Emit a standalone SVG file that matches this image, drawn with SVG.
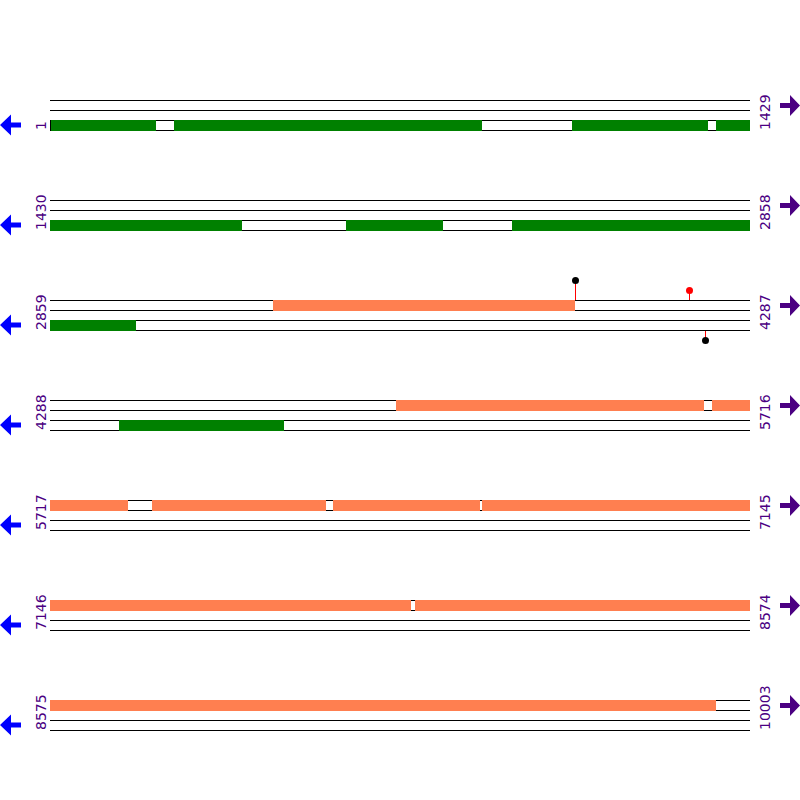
<svg xmlns="http://www.w3.org/2000/svg" width="800" height="800" viewBox="0 0 800 800">
<style>
.ln{stroke:#000;stroke-width:1;fill:none}
.g{fill:#008000}
.o{fill:#ff7f50}
.lbl{font-family:"DejaVu Sans",sans-serif;font-size:14px;fill:#4b0082}
.la{fill:#0000ff}
.ra{fill:#4b0082}
.stem{stroke:#ff0000;stroke-width:1}
</style>
<defs>
<g id="rows">
<path class="ln" d="M50 0.5H750M50 10.5H750M50 20.5H750M50 30.5H750"/>
</g>
<polygon id="larr" points="0,0 11,-10.5 11,-2.5 21,-2.5 21,2.5 11,2.5 11,10.5"/>
<polygon id="rarr" points="800,0 790,-10.5 790,-2.5 780,-2.5 780,2.5 790,2.5 790,10.5"/>
</defs>
<rect width="800" height="800" fill="#fff"/>
<g id="connectors">
<use href="#rows" y="100"/>
<use href="#rows" y="200"/>
<use href="#rows" y="300"/>
<use href="#rows" y="400"/>
<use href="#rows" y="500"/>
<use href="#rows" y="600"/>
<use href="#rows" y="700"/>
</g>
<g id="row1">
<line x1="50.5" y1="120" x2="50.5" y2="131" stroke="#000"/>
<rect class="g" x="51" y="120" width="105" height="11"/>
<rect class="g" x="174" y="120" width="308" height="11"/>
<rect class="g" x="572" y="120" width="136" height="11"/>
<rect class="g" x="716" y="120" width="34" height="11"/>
<text class="lbl" transform="translate(46,130) rotate(-90)">1</text>
<text class="lbl" transform="translate(770,130) rotate(-90)">1429</text>
<use href="#larr" class="la" y="125"/>
<use href="#rarr" class="ra" y="105.5"/>
</g>
<g id="row2">
<rect class="g" x="50" y="220" width="192" height="11"/>
<rect class="g" x="346" y="220" width="97" height="11"/>
<rect class="g" x="512" y="220" width="238" height="11"/>
<text class="lbl" transform="translate(46,230) rotate(-90)">1430</text>
<text class="lbl" transform="translate(770,230) rotate(-90)">2858</text>
<use href="#larr" class="la" y="225"/>
<use href="#rarr" class="ra" y="205.5"/>
</g>
<g id="row3">
<rect class="o" x="273" y="300" width="302" height="11"/>
<rect class="g" x="50" y="320" width="86" height="11"/>
<line class="stem" x1="575.5" y1="280" x2="575.5" y2="300"/>
<circle cx="575.5" cy="280.5" r="3.5" fill="#000"/>
<line class="stem" x1="689.5" y1="290" x2="689.5" y2="300"/>
<circle cx="689.5" cy="290.5" r="3.5" fill="#ff0000"/>
<line class="stem" x1="705.5" y1="331" x2="705.5" y2="340"/>
<circle cx="705.5" cy="340.5" r="3.5" fill="#000"/>
<text class="lbl" transform="translate(46,330) rotate(-90)">2859</text>
<text class="lbl" transform="translate(770,330) rotate(-90)">4287</text>
<use href="#larr" class="la" y="325"/>
<use href="#rarr" class="ra" y="305.5"/>
</g>
<g id="row4">
<rect class="o" x="396" y="400" width="308" height="11"/>
<rect class="o" x="712" y="400" width="38" height="11"/>
<rect class="g" x="119" y="420" width="165" height="11"/>
<text class="lbl" transform="translate(46,430) rotate(-90)">4288</text>
<text class="lbl" transform="translate(770,430) rotate(-90)">5716</text>
<use href="#larr" class="la" y="425"/>
<use href="#rarr" class="ra" y="405.5"/>
</g>
<g id="row5">
<rect class="o" x="50" y="500" width="78" height="11"/>
<rect class="o" x="152" y="500" width="174" height="11"/>
<rect class="o" x="333" y="500" width="147" height="11"/>
<rect class="o" x="482" y="500" width="268" height="11"/>
<text class="lbl" transform="translate(46,530) rotate(-90)">5717</text>
<text class="lbl" transform="translate(770,530) rotate(-90)">7145</text>
<use href="#larr" class="la" y="525"/>
<use href="#rarr" class="ra" y="505.5"/>
</g>
<g id="row6">
<rect class="o" x="50" y="600" width="361" height="11"/>
<rect class="o" x="415" y="600" width="335" height="11"/>
<text class="lbl" transform="translate(46,630) rotate(-90)">7146</text>
<text class="lbl" transform="translate(770,630) rotate(-90)">8574</text>
<use href="#larr" class="la" y="625"/>
<use href="#rarr" class="ra" y="605.5"/>
</g>
<g id="row7">
<rect class="o" x="50" y="700" width="666" height="11"/>
<text class="lbl" transform="translate(46,730) rotate(-90)">8575</text>
<text class="lbl" transform="translate(770,730) rotate(-90)">10003</text>
<use href="#larr" class="la" y="725"/>
<use href="#rarr" class="ra" y="705.5"/>
</g>
</svg>
